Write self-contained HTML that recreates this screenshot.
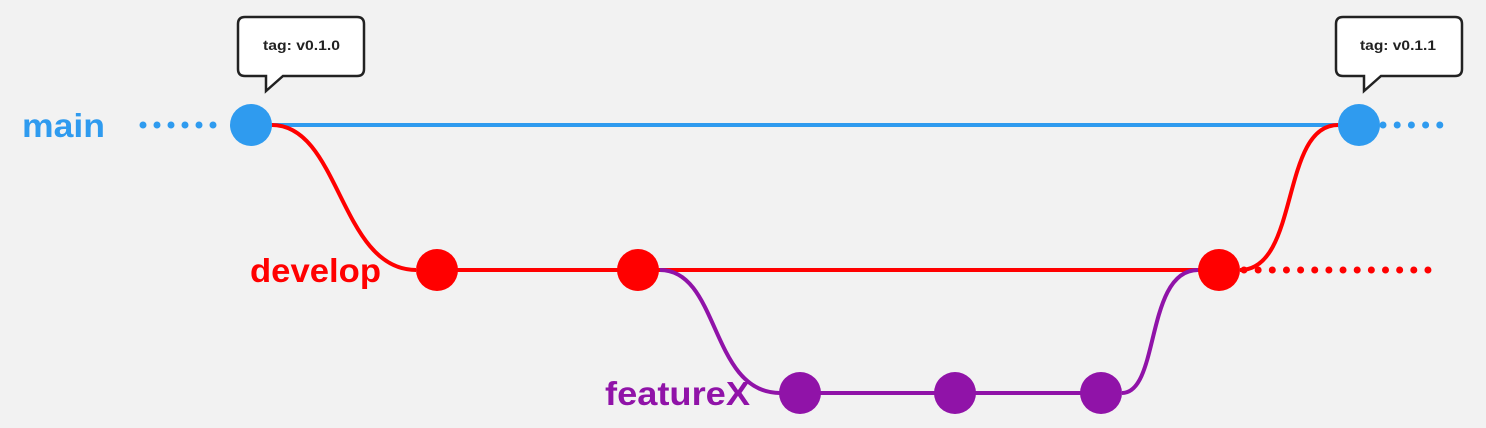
<!DOCTYPE html>
<html><head><style>
html,body{margin:0;padding:0;background:#f2f2f2;}
svg{display:block}
text{font-family:"Liberation Sans",sans-serif;font-weight:bold}
</style></head><body>
<svg width="1486" height="428" viewBox="0 0 1486 428">
<rect width="1486" height="428" fill="#f2f2f2"/>
<line x1="251" y1="125" x2="1359" y2="125" stroke="#2f9bef" stroke-width="4"/>
<line x1="437" y1="270" x2="1219" y2="270" stroke="#ff0000" stroke-width="4"/>
<line x1="800" y1="393" x2="1101" y2="393" stroke="#9013a8" stroke-width="4"/>
<path d="M272,125 C340,125 340,270 416,270" fill="none" stroke="#ff0000" stroke-width="4"/>
<path d="M1240,270 C1300,270 1280,125 1338,125" fill="none" stroke="#ff0000" stroke-width="4"/>
<path d="M660,270 C720,270 710,393 780,393" fill="none" stroke="#9013a8" stroke-width="4"/>
<path d="M1122,393 C1160,393 1145,270 1198,270" fill="none" stroke="#9013a8" stroke-width="4"/>
<line x1="143" y1="125" x2="226" y2="125" stroke="#2f9bef" stroke-width="7" stroke-linecap="round" stroke-dasharray="0 14"/>
<line x1="1383" y1="125" x2="1440" y2="125" stroke="#2f9bef" stroke-width="7" stroke-linecap="round" stroke-dasharray="0 14.2"/>
<line x1="1244" y1="270" x2="1428" y2="270" stroke="#ff0000" stroke-width="7" stroke-linecap="round" stroke-dasharray="0 14.15"/>
<circle cx="251" cy="125" r="21" fill="#2f9bef"/>
<circle cx="1359" cy="125" r="21" fill="#2f9bef"/>
<circle cx="437" cy="270" r="21" fill="#ff0000"/>
<circle cx="638" cy="270" r="21" fill="#ff0000"/>
<circle cx="1219" cy="270" r="21" fill="#ff0000"/>
<circle cx="800" cy="393" r="21" fill="#9013a8"/>
<circle cx="955" cy="393" r="21" fill="#9013a8"/>
<circle cx="1101" cy="393" r="21" fill="#9013a8"/>
<text x="22" y="137" font-size="33" fill="#2f9bef" textLength="83" lengthAdjust="spacingAndGlyphs">main</text>
<text x="250" y="282" font-size="33" fill="#ff0000" textLength="131" lengthAdjust="spacingAndGlyphs">develop</text>
<text x="605" y="405" font-size="33" fill="#9013a8" textLength="145" lengthAdjust="spacingAndGlyphs">featureX</text>
<path d="M245,17 H357 Q364,17 364,24 V69 Q364,76 357,76 H283 L266,91 V76 H245 Q238,76 238,69 V24 Q238,17 245,17 Z" fill="#fff" stroke="#222" stroke-width="2.5"/>
<text x="263" y="50" font-size="14" fill="#222" textLength="77" lengthAdjust="spacingAndGlyphs">tag: v0.1.0</text>
<path d="M1343,17 H1455 Q1462,17 1462,24 V69 Q1462,76 1455,76 H1381 L1364,91 V76 H1343 Q1336,76 1336,69 V24 Q1336,17 1343,17 Z" fill="#fff" stroke="#222" stroke-width="2.5"/>
<text x="1360" y="50" font-size="14" fill="#222" textLength="76" lengthAdjust="spacingAndGlyphs">tag: v0.1.1</text>
</svg>
</body></html>
